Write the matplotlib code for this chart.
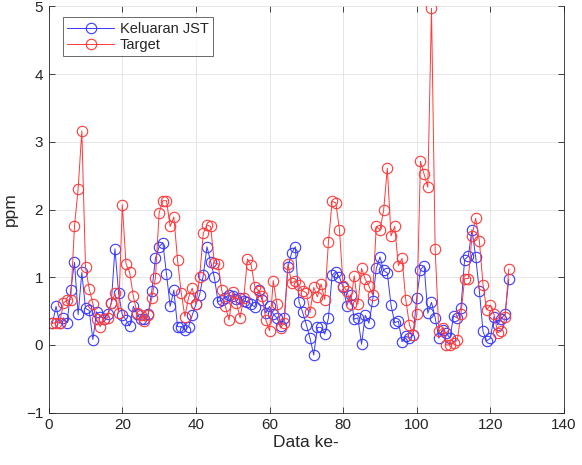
import matplotlib
matplotlib.use("Agg")
import matplotlib.pyplot as plt
import numpy as np

plt.rcParams['font.family'] = ['Liberation Sans', 'DejaVu Sans']

data_index = list(range(1, 126))

keluaran_jst = [
    0.32, 0.57, 0.32, 0.40, 0.33, 0.81, 1.22, 0.45, 1.07, 0.54,
    0.51, 0.08, 0.49, 0.42, 0.39, 0.45, 0.62, 1.42, 0.76, 0.44,
    0.37, 0.28, 0.57, 0.45, 0.38, 0.38, 0.45, 0.79, 1.28, 1.45,
    1.51, 1.05, 0.57, 0.81, 0.27, 0.27, 0.22, 0.27, 0.44, 0.60,
    0.74, 1.03, 1.45, 1.23, 1.00, 0.64, 0.66, 0.70, 0.74, 0.72,
    0.68, 0.70, 0.65, 0.64, 0.60, 0.56, 0.81, 0.66, 0.47, 0.57,
    0.46, 0.40, 0.28, 0.40, 1.15, 1.36, 1.45, 0.64, 0.48, 0.30,
    0.10, -0.15, 0.26, 0.26, 0.16, 0.40, 1.03, 1.08, 1.00, 0.85,
    0.58, 0.74, 0.38, 0.40, 0.01, 0.44, 0.32, 0.65, 1.13, 1.30,
    1.10, 1.06, 0.59, 0.33, 0.35, 0.05, 0.13, 0.10, 0.15, 0.70,
    1.11, 1.17, 0.47, 0.63, 0.40, 0.10, 0.22, 0.18, 0.10, 0.43,
    0.40, 0.55, 1.26, 1.31, 1.70, 1.30, 0.80, 0.20, 0.06, 0.10,
    0.42, 0.30, 0.39, 0.46, 0.97,
]

target = [
    0.32, 0.33, 0.33, 0.62, 0.66, 0.67, 1.75, 2.31, 3.16, 1.15,
    0.83, 0.61, 0.38, 0.27, 0.39, 0.40, 0.62, 0.76, 0.47, 2.07,
    1.20, 1.07, 0.72, 0.47, 0.44, 0.35, 0.44, 0.69, 0.99, 1.95,
    2.13, 2.13, 1.75, 1.89, 1.26, 0.77, 0.42, 0.70, 0.84, 0.60,
    1.00, 1.65, 1.77, 1.75, 1.21, 1.20, 0.81, 0.57, 0.37, 0.78,
    0.62, 0.40, 0.70, 1.27, 1.18, 0.86, 0.80, 0.72, 0.37, 0.21,
    0.95, 0.60, 0.25, 0.33, 1.20, 0.91, 0.95, 0.88, 0.80, 0.77,
    0.48, 0.85, 0.71, 0.90, 0.67, 1.52, 2.12, 2.10, 1.70, 0.87,
    0.80, 0.60, 1.02, 0.60, 1.13, 0.97, 0.87, 0.74, 1.75, 1.70,
    1.99, 2.61, 1.61, 1.75, 1.17, 1.28, 0.67, 0.30, 0.15, 0.45,
    2.71, 2.52, 2.33, 4.97, 1.41, 0.20, 0.25, 0.00, 0.00, 0.03,
    0.07, 0.45, 0.98, 0.98, 1.61, 1.87, 1.54, 0.89, 0.52, 0.59,
    0.45, 0.18, 0.21, 0.41, 1.12,
]

x_ticks = [0, 20, 40, 60, 80, 100, 120, 140]
y_ticks = [-1, 0, 1, 2, 3, 4, 5]

W, H = 582, 465
fig = plt.figure(figsize=(W / 100, H / 100), dpi=100)
ax = fig.add_axes([48.7 / W, 1 - 412.7 / H, (564 - 48.7) / W, (412.7 - 6.3) / H])

blue = '#3a3aff'
red = '#ff3a3a'
ax.plot(data_index, keluaran_jst, '-o', color=blue, lw=0.7, ms=7.5,
        mfc='none', mec=blue, mew=0.8, label='Keluaran JST')
ax.plot(data_index, target, '-o', color=red, lw=0.7, ms=7.5,
        mfc='none', mec=red, mew=0.8, label='Target')

ax.set_xlim(0, 140)
ax.set_ylim(-1, 5)
ax.set_xticks(x_ticks)
ax.set_yticks(y_ticks)
ax.grid(True, color='#e2e2e2', lw=0.6)
ax.set_axisbelow(True)

text_c = '#262626'
ax.tick_params(direction='in', length=4, width=0.6, colors='#262626',
               labelsize=11, top=True, right=True, pad=4)
for s in ['left', 'bottom', 'right']:
    ax.spines[s].set_color('#262626')
    ax.spines[s].set_linewidth(0.6)
ax.spines['top'].set_visible(False)

ax.set_xlabel('Data ke-', fontsize=12.5, color=text_c, labelpad=2)
ax.set_ylabel('ppm', fontsize=12.5, color=text_c, labelpad=6)

leg = ax.legend(loc='upper left', bbox_to_anchor=(0.022, 0.98), fontsize=10.5,
                frameon=True, fancybox=False, edgecolor='#262626',
                handlelength=3.2, borderpad=0.3, labelspacing=0.15,
                handletextpad=0.4, borderaxespad=0.2)
leg.get_frame().set_linewidth(0.6)
for t in leg.get_texts():
    t.set_color(text_c)

fig.savefig('out.png', dpi=100)
